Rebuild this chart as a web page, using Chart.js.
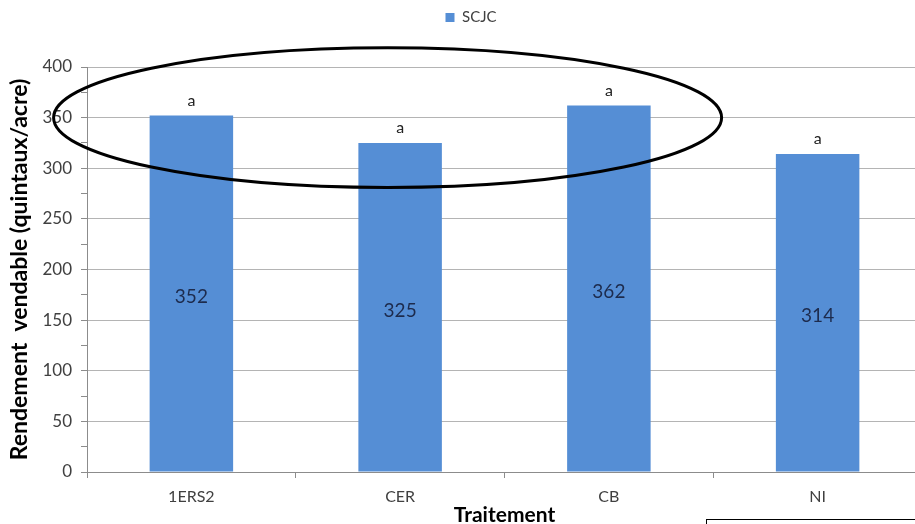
<!DOCTYPE html>
<html>
<head>
<meta charset="utf-8">
<script src="https://cdn.jsdelivr.net/npm/chart.js@4/dist/chart.umd.min.js"></script>
<style>
  html, body { margin: 0; padding: 0; background: #fff; overflow: hidden; }
  #wrap { position: relative; width: 915px; height: 524px; overflow: hidden; background: #fff; }
  #plot { position: absolute; left: 0; top: 0; width: 942px; height: 524px; }
  #note { position: absolute; left: 706px; top: 519px; width: 320px; height: 40px;
          border: 1px solid #000; background: #fff; }
</style>
</head>
<body>
<div id="wrap">
  <div id="plot"><canvas id="c" width="942" height="524"></canvas></div>
  <div id="note"></div>
</div>
<script>
// Treatments and marketable yield (quintaux/acre)
const categories = ['1ERS2', 'CER', 'CB', 'NI'];
const yieldValues = [352, 325, 362, 314];
const groupLetters = ['a', 'a', 'a', 'a'];
const seriesName = 'SCJC';

// Value axis
const yMin = 0;
const yMax = 400;
const yMajorStep = 50;
const yMinorStep = 25;

// Ellipse circling the first three treatments (category index / axis units)
const ringCentreIndex = 0.94;
const ringCentreValue = 350;
const ringHalfWidth = 1.6;   // in categories
const ringHalfHeight = 69;   // in axis units

const FONT = 'Lato, "Open Sans", sans-serif';
const BAR_BLUE = '#558ed5';

const labelsPlugin = {
  id: 'barLabels',
  beforeInit(chart) {
    const lg = chart.legend;
    if (lg) {
      const fit = lg.fit;
      lg.fit = function () { fit.call(this); this.height = 67; };
    }
  },
  afterDatasetsDraw(chart) {
    const ctx = chart.ctx;
    const ys = chart.scales.y;
    const xs = chart.scales.x;
    const meta = chart.getDatasetMeta(0);
    ctx.save();
    ctx.textAlign = 'center';
    ctx.textBaseline = 'middle';
    meta.data.forEach((bar, i) => {
      const v = yieldValues[i];
      ctx.font = '19px ' + FONT;
      ctx.fillStyle = '#1d2b4d';
      ctx.fillText(String(v), bar.x, ys.getPixelForValue(v / 2) + 3);
      ctx.font = '16px ' + FONT;
      ctx.fillStyle = '#222';
      ctx.fillText(groupLetters[i], bar.x, bar.y - 15);
    });

    // ring
    const cx = xs.getPixelForValue(ringCentreIndex);
    const cy = ys.getPixelForValue(ringCentreValue);
    const step = xs.getPixelForValue(1) - xs.getPixelForValue(0);
    const rx = ringHalfWidth * step;
    const ry = Math.abs(ys.getPixelForValue(ringCentreValue + ringHalfHeight) - cy);
    ctx.beginPath();
    ctx.ellipse(cx, cy, rx, ry, 0, 0, Math.PI * 2);
    ctx.lineWidth = 3;
    ctx.strokeStyle = '#000';
    ctx.stroke();
    ctx.restore();
  }
};

new Chart(document.getElementById('c'), {
  type: 'bar',
  data: {
    labels: categories,
    datasets: [{
      label: seriesName,
      data: yieldValues,
      backgroundColor: BAR_BLUE,
      borderWidth: 0,
      barPercentage: 0.8,
      categoryPercentage: 0.5
    }]
  },
  options: {
    responsive: false,
    animation: false,
    devicePixelRatio: 1,
    layout: { padding: { left: 20, right: 20, top: 0, bottom: 0 } },
    plugins: {
      legend: {
        position: 'top',
        labels: {
          boxWidth: 9, boxHeight: 9, padding: 10,
          color: '#404040',
          font: { family: FONT, size: 15 }
        }
      },
      tooltip: { enabled: false }
    },
    scales: {
      x: {
        afterFit(scale) { scale.height = 52; },
        border: { color: '#8c8c8c', width: 1 },
        grid: {
          offset: true,
          drawOnChartArea: false,
          drawTicks: true,
          tickLength: 6,
          tickColor: '#8c8c8c'
        },
        ticks: {
          padding: 9,
          color: '#404040',
          font: { family: FONT, size: 16 }
        },
        title: {
          display: true,
          text: 'Traitement',
          color: '#000',
          padding: { top: 0, bottom: -2 },
          font: { family: FONT, size: 21, weight: 'bold', lineHeight: 1 }
        }
      },
      y: {
        min: yMin,
        max: yMax,
        afterFit(scale) { scale.width = 67; },
        border: { color: '#8c8c8c', width: 1 },
        grid: {
          drawTicks: true,
          tickLength: 6,
          tickColor: '#8c8c8c',
          color: (c) => (c.tick && c.tick.value % yMajorStep === 0) ? '#b4b4b4' : 'rgba(0,0,0,0)'
        },
        ticks: {
          stepSize: yMinorStep,
          padding: 9,
          color: '#404040',
          font: { family: FONT, size: 17 },
          callback: (v) => (v % yMajorStep === 0 ? String(v) : '')
        },
        title: {
          display: true,
          text: 'Rendement  vendable (quintaux/acre)',
          color: '#000',
          padding: { top: -14, bottom: 0 },
          font: { family: FONT, size: 23, weight: 'bold', lineHeight: 1.2 }
        }
      }
    }
  },
  plugins: [labelsPlugin]
});
</script>
</body>
</html>
